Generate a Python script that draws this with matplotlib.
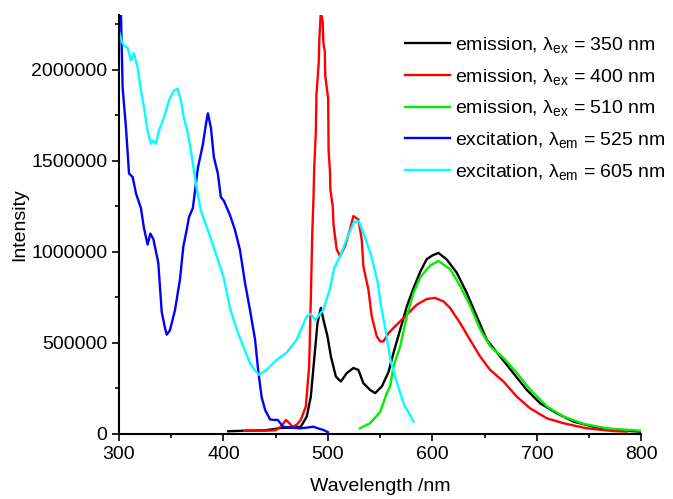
import matplotlib
matplotlib.use("Agg")
import matplotlib.pyplot as plt
import matplotlib.ticker as mticker

plt.rcParams["font.family"] = "Liberation Sans"
plt.rcParams["font.size"] = 14
plt.rcParams["mathtext.fontset"] = "custom"
plt.rcParams["mathtext.rm"] = "Liberation Sans"
plt.rcParams["mathtext.it"] = "Liberation Sans"

# emission, lambda_ex = 350 nm
em350_x = [404.6, 420, 440, 455, 465, 474, 479.7, 483.6, 486.8, 490, 493.2, 496.4,
           499.6, 502.8, 507.6, 512.4, 518, 524.3, 529.1, 533.9, 540.3, 545.1, 551.5,
           558, 562.7, 569.1, 575.5, 581.9, 588.3, 594.6, 600, 605.7, 613.7, 623.3,
           632.8, 642.4, 652, 664.8, 677.5, 690.3, 703, 719, 735, 754.1, 773.2, 798.8]
em350_y = [0.015, 0.018, 0.02, 0.033, 0.035, 0.04, 0.095, 0.205, 0.407, 0.609, 0.692,
           0.609, 0.536, 0.426, 0.315, 0.288, 0.334, 0.362, 0.352, 0.279, 0.242, 0.224,
           0.26, 0.34, 0.444, 0.572, 0.7, 0.8, 0.89, 0.96, 0.98, 0.994, 0.958, 0.885,
           0.775, 0.646, 0.517, 0.426, 0.334, 0.242, 0.169, 0.114, 0.068, 0.04, 0.022,
           0.013]

# emission, lambda_ex = 400 nm
em400_x = [420, 430, 440, 449.6, 455, 459.8, 463, 466.2, 470, 474, 478.8, 482, 483.6,
           485, 486.2, 486.8, 488.4, 489, 491.2, 491.8, 493.2, 495, 495.6, 497, 497.4,
           500.2, 500.6, 502, 502.3, 504.6, 505.3, 508.4, 511.6, 516.4, 521.1, 524.3,
           529.1, 532.3, 533.9, 538.7, 541.9, 546.7, 550, 553.1, 558, 565.9, 575.5,
           585.1, 594.6, 602.5, 610.5, 616.9, 626.5, 636, 645.6, 655.2, 668, 680.7,
           693.5, 709.5, 725.4, 747.8, 773.2, 786]
em400_y = [0.018, 0.018, 0.018, 0.02, 0.04, 0.077, 0.06, 0.04, 0.05, 0.077, 0.15, 0.37,
           0.74, 1.1, 1.3, 1.45, 1.66, 1.86, 2.04, 2.17, 2.32, 2.26, 2.15, 2.1, 1.97,
           1.84, 1.56, 1.435, 1.343, 1.25, 1.15, 1.013, 0.976, 1.031, 1.123, 1.196,
           1.178, 1.068, 0.921, 0.793, 0.646, 0.536, 0.508, 0.508, 0.554, 0.6, 0.655,
           0.71, 0.741, 0.747, 0.728, 0.692, 0.609, 0.517, 0.426, 0.352, 0.288, 0.205,
           0.141, 0.086, 0.059, 0.031, 0.016, 0.013]

# emission, lambda_ex = 510 nm
em510_x = [530.7, 540.3, 549.9, 556.3, 559.5, 562.7, 569.1, 575.5, 581.9, 588.3, 597.9,
           605.7, 617.2, 626.8, 636.4, 645.9, 655.5, 668.3, 681, 693.8, 709.8, 725.7,
           744.9, 767.3, 798.8]
em510_y = [0.031, 0.059, 0.12, 0.224, 0.26, 0.37, 0.48, 0.646, 0.775, 0.86, 0.925,
           0.95, 0.903, 0.81, 0.7, 0.572, 0.48, 0.416, 0.334, 0.242, 0.15, 0.095,
           0.055, 0.031, 0.018]

# excitation, lambda_em = 525 nm
ex525_x = [300, 301.9, 303.5, 306.7, 309.6, 313.1, 316.3, 321, 323.9, 327.4, 330,
           332.9, 337.6, 340.9, 344.1, 345.7, 348.8, 353.6, 358.4, 361.6, 364.8, 367,
           370.7, 375.5, 380.3, 383.2, 385.1, 388, 390.8, 394.6, 397.5, 400.4, 406.3,
           411, 415.8, 420.6, 425.4, 430.2, 433.4, 436.6, 440, 444.6, 448, 452, 457,
           465, 473, 480, 486, 491, 495.6, 500]
ex525_y = [2.40, 2.30, 1.90, 1.68, 1.43, 1.41, 1.32, 1.24, 1.13, 1.04, 1.10, 1.07,
           0.94, 0.67, 0.58, 0.545, 0.57, 0.68, 0.85, 1.03, 1.12, 1.19, 1.24, 1.46,
           1.59, 1.70, 1.76, 1.68, 1.52, 1.43, 1.30, 1.28, 1.20, 1.12, 1.01, 0.83,
           0.68, 0.52, 0.34, 0.20, 0.13, 0.08, 0.077, 0.077, 0.04, 0.035, 0.031, 0.035,
           0.04, 0.03, 0.022, 0.01]

# excitation, lambda_em = 605 nm
ex605_x = [300, 303, 305, 308.3, 311.5, 314.3, 317.9, 321, 324, 327.4, 330.6, 333,
           335.4, 338.2, 343, 347.8, 352.6, 356, 359.3, 362.1, 366, 368.8, 373.6,
           378.4, 385, 393.5, 399.9, 406.3, 412.7, 419, 425.4, 430, 434, 441.4, 451,
           460.4, 470, 479.7, 483.6, 487.6, 491, 495.6, 502, 506, 512, 518.6, 524.7,
           529.4, 534.2, 540.9, 547.3, 550.5, 555.3, 560, 566.4, 572.5, 582]
ex605_y = [2.21, 2.15, 2.13, 2.12, 2.05, 2.09, 2.01, 1.885, 1.79, 1.665, 1.593, 1.61,
           1.593, 1.665, 1.736, 1.83, 1.885, 1.895, 1.83, 1.736, 1.648, 1.555, 1.374,
           1.225, 1.12, 0.976, 0.866, 0.69, 0.572, 0.48, 0.389, 0.35, 0.325, 0.352,
           0.407, 0.446, 0.517, 0.646, 0.659, 0.625, 0.648, 0.683, 0.80, 0.91, 0.98,
           1.079, 1.161, 1.17, 1.099, 0.989, 0.841, 0.714, 0.566, 0.401, 0.275, 0.165,
           0.068]

series = [
    (em350_x, em350_y, "black", r"emission, λ$_{\rm ex}$ = 350 nm"),
    (em400_x, em400_y, "#ff0000", r"emission, λ$_{\rm ex}$ = 400 nm"),
    (em510_x, em510_y, "#00ee00", r"emission, λ$_{\rm ex}$ = 510 nm"),
    (ex525_x, ex525_y, "#0000ff", r"excitation, λ$_{\rm em}$ = 525 nm"),
    (ex605_x, ex605_y, "#00ffff", r"excitation, λ$_{\rm em}$ = 605 nm"),
]

fig = plt.figure(figsize=(6.73, 4.99), dpi=100)
ax = fig.add_axes([0.1768, 0.1303, 0.7762, 0.8397])

for xs, ys, color, label in series:
    ax.plot(xs, [v * 1e6 for v in ys], color=color, lw=1.7, label=label)

ax.set_xlim(300, 800)
ax.set_ylim(0, 2.3e6)
ax.xaxis.set_major_locator(mticker.MultipleLocator(100))
ax.xaxis.set_minor_locator(mticker.MultipleLocator(50))
ax.yaxis.set_major_locator(mticker.MultipleLocator(500000))
ax.yaxis.set_minor_locator(mticker.MultipleLocator(250000))
ax.yaxis.set_major_formatter(mticker.FuncFormatter(lambda v, _: f"{v:.0f}"))
ax.tick_params(which="major", direction="out", length=5, width=1.2)
ax.tick_params(which="minor", direction="out", length=3, width=1.2)
ax.spines[["top", "right"]].set_visible(False)
ax.spines[["left", "bottom"]].set_linewidth(1.5)
ax.set_xlabel("Wavelength /nm", labelpad=11)
ax.set_ylabel("Intensity", labelpad=2)

ax.legend(loc="upper left", bbox_to_anchor=(405 / 673, 1 - 35 / 499),
          bbox_transform=fig.transFigure, frameon=False, borderpad=0,
          borderaxespad=0, handlelength=2.3, handletextpad=0.25, labelspacing=0.6)

fig.savefig("out.png", dpi=100)
